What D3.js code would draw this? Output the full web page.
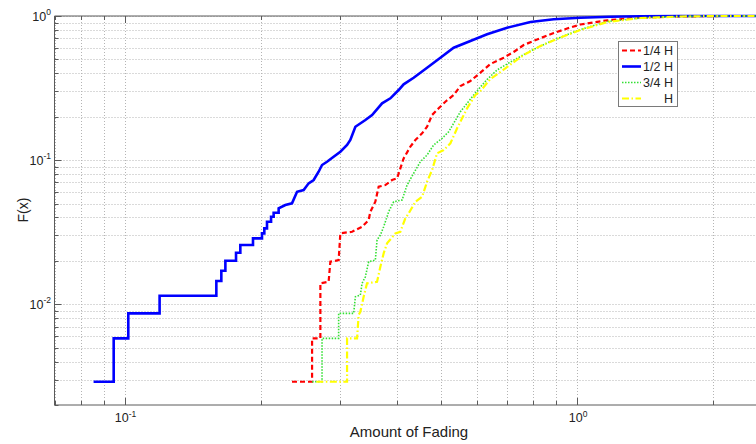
<!DOCTYPE html>
<html>
<head>
<meta charset="utf-8">
<script src="https://cdn.jsdelivr.net/npm/d3@7"></script>
<style>
  body { margin: 0; background: #fff; }
  svg { display: block; font-family: "Liberation Sans", Arial, sans-serif; }
</style>
</head>
<body>
<svg id="chart" width="756" height="444"></svg>
<script>
// Empirical CDFs of the amount of fading, one polyline per antenna height.
// Each entry is [amount of fading, F(x)].
const seriesNames = ["1/4 H", "1/2 H", "3/4 H", "H"];

const quarterH = [
  [0.2344,0.00290],[0.2596,0.00290],[0.2596,0.00580],[0.2708,0.00580],[0.2708,0.01397],
  [0.2824,0.01432],[0.2849,0.01972],[0.2972,0.02026],[0.2998,0.03105],[0.3182,0.03185],
  [0.3348,0.03450],[0.3462,0.03840],[0.3492,0.04384],[0.3582,0.05144],[0.3643,0.06538],
  [0.3769,0.06718],[0.3900,0.07277],[0.4001,0.07477],[0.4068,0.08772],[0.4137,0.1029],
  [0.4281,0.1239],[0.4391,0.1379],[0.4544,0.1535],[0.4661,0.1705],[0.4781,0.2056],
  [0.4944,0.2288],[0.5116,0.2543],[0.5336,0.2830],[0.5522,0.3267],[0.5810,0.3540],
  [0.6113,0.4042],[0.6432,0.4644],[0.6883,0.5136],[0.7242,0.5626],[0.7620,0.6292],
  [0.8158,0.6870],[0.8878,0.7621],[0.9504,0.8188],[1.0169,0.8731],[1.1668,0.9336],
  [1.380,0.9763],[1.692,0.9920],[2.074,1.0],[3.0,1.0]
];

const halfH = [
  [0.0854,0.00290],[0.0946,0.00290],[0.0946,0.00580],[0.1019,0.00580],[0.1019,0.00865],
  [0.1195,0.00865],[0.1195,0.01146],[0.1595,0.01146],[0.1595,0.01449],[0.1636,0.01449],
  [0.1636,0.01708],[0.1670,0.01708],[0.1670,0.02004],[0.1763,0.02004],[0.1763,0.02278],
  [0.1802,0.02278],[0.1802,0.02575],[0.1922,0.02575],[0.1922,0.02866],[0.2012,0.02866],
  [0.2012,0.03105],[0.2036,0.03105],[0.2036,0.03363],[0.2064,0.03363],[0.2064,0.03737],
  [0.2107,0.03737],[0.2107,0.04048],[0.2135,0.04048],[0.2135,0.04315],[0.2190,0.04315],
  [0.2190,0.04629],[0.2266,0.04880],[0.2344,0.05014],[0.2405,0.06036],[0.2487,0.06202],
  [0.2551,0.06902],[0.2617,0.07277],[0.2684,0.08308],[0.2731,0.09247],[0.2801,0.09747],
  [0.2897,0.1056],[0.2998,0.1144],[0.3102,0.1273],[0.3154,0.1379],[0.3236,0.1705],
  [0.3405,0.1898],[0.3523,0.2056],[0.3707,0.2478],[0.3867,0.2685],[0.4033,0.3065],
  [0.4137,0.3357],[0.4353,0.3731],[0.4661,0.4377],[0.4987,0.5136],[0.5336,0.6026],
  [0.5810,0.6707],[0.6325,0.7464],[0.7003,0.8294],[0.7885,0.9085],[0.8878,0.9487],
  [1.0169,0.9732],[1.1847,0.9872],[1.380,0.9968],[1.692,1.0],[3.0,1.0]
];

const threeQuarterH = [
  [0.2596,0.00290],[0.2731,0.00290],[0.2731,0.00580],[0.2972,0.00580],[0.2972,0.00865],
  [0.3208,0.00865],[0.3236,0.01127],[0.3319,0.01158],[0.3348,0.01397],[0.3405,0.01552],
  [0.3462,0.01972],[0.3582,0.02026],[0.3613,0.02789],[0.3675,0.03021],[0.3737,0.03450],
  [0.3802,0.04048],[0.3833,0.04384],[0.3932,0.05144],[0.4104,0.05286],[0.4210,0.06718],
  [0.4353,0.08098],[0.4504,0.09747],[0.4661,0.1085],[0.4820,0.1273],[0.5031,0.1417],
  [0.5202,0.1574],[0.5336,0.1801],[0.5522,0.2167],[0.5713,0.2478],[0.5908,0.2830],
  [0.6113,0.3216],[0.6325,0.3626],[0.6655,0.4221],[0.7122,0.4795],[0.7885,0.5716],
  [0.8584,0.6496],[0.9341,0.7264],[1.0169,0.8058],[1.1668,0.9158],[1.380,0.9685],
  [1.692,0.9920],[2.074,1.0],[3.0,1.0]
];

const fullH = [
  [0.2653,0.00290],[0.3102,0.00290],[0.3102,0.00580],[0.3264,0.00580],[0.3290,0.00841],
  [0.3319,0.00887],[0.3375,0.01127],[0.3434,0.01397],[0.3613,0.01432],[0.3675,0.01821],
  [0.3737,0.02256],[0.3802,0.02646],[0.3966,0.03105],[0.4068,0.03185],[0.4173,0.03946],
  [0.4244,0.04274],[0.4391,0.05144],[0.4544,0.05572],[0.4661,0.07081],[0.4781,0.08537],
  [0.4904,0.1115],[0.5072,0.1175],[0.5248,0.1308],[0.5430,0.1662],[0.5570,0.1950],
  [0.5713,0.2288],[0.5960,0.2830],[0.6113,0.3016],[0.6432,0.3655],[0.6768,0.4088],
  [0.7122,0.4607],[0.7620,0.5363],[0.8296,0.6192],[0.9185,0.7093],[1.0169,0.7994],
  [1.1668,0.9085],[1.380,0.9685],[1.692,0.9920],[2.074,1.0],[3.0,1.0]
];

const xMajorTicks = [0.1, 1];
const xTickLabels = [["10", "-1"], ["10", "0"]];
const yMajorTicks = [0.01, 0.1, 1];
const yTickLabels = [["10", "-2"], ["10", "-1"], ["10", "0"]];

// ---- layout -------------------------------------------------------------
const svg = d3.select("#chart");
const W = 756, H = 444;
const plot = { left: 54.5, top: 16, right: 793, bottom: 405 };

const x = d3.scaleLog().domain([0.07, 3]).range([plot.left, plot.right]);
const y = d3.scaleLog().domain([0.002, 1]).range([plot.bottom, plot.top]);

svg.append("rect").attr("width", W).attr("height", H).attr("fill", "#fff");

svg.append("defs").append("clipPath").attr("id", "plotClip")
  .append("rect")
  .attr("x", plot.left).attr("y", plot.top)
  .attr("width", plot.right - plot.left).attr("height", plot.bottom - plot.top);

// ---- dotted grid on every decade subdivision ------------------------------
const grid = svg.append("g").attr("clip-path", "url(#plotClip)")
  .attr("stroke", "#b4b4b4").attr("stroke-width", 1).attr("stroke-dasharray", "1,2");

grid.selectAll("line.gx").data(x.ticks()).join("line")
  .attr("class", "gx")
  .attr("x1", d => Math.round(x(d)) + 0.5).attr("x2", d => Math.round(x(d)) + 0.5)
  .attr("y1", plot.top).attr("y2", plot.bottom);

grid.selectAll("line.gy").data(y.ticks()).join("line")
  .attr("class", "gy")
  .attr("y1", d => Math.round(y(d)) + 0.5).attr("y2", d => Math.round(y(d)) + 0.5)
  .attr("x1", plot.left).attr("x2", plot.right);

// ---- axes box with inward ticks ------------------------------------------
const axisColor = "#5a5a5a";
const axes = svg.append("g").attr("stroke", axisColor).attr("stroke-width", 1).attr("fill", "none");
axes.append("path")
  .attr("d", `M${plot.left},${plot.top}H${plot.right}M${plot.left},${plot.top}V${plot.bottom}H${plot.right}`);

const isMajor = v => Math.abs(Math.log10(v) - Math.round(Math.log10(v))) < 1e-9;

x.ticks().forEach(v => {
  const px = Math.round(x(v)) + 0.5;
  const len = isMajor(v) ? 7 : 4;
  axes.append("line").attr("x1", px).attr("x2", px).attr("y1", plot.bottom).attr("y2", plot.bottom - len);
  axes.append("line").attr("x1", px).attr("x2", px).attr("y1", plot.top).attr("y2", plot.top + len);
});
y.ticks().forEach(v => {
  const py = Math.round(y(v)) + 0.5;
  const len = isMajor(v) ? 7 : 4;
  axes.append("line").attr("y1", py).attr("y2", py).attr("x1", plot.left).attr("x2", plot.left + len);
});

// ---- tick labels (power-of-ten notation) -----------------------------------
function powerLabel(g, parts, px, py, anchor) {
  const t = g.append("text")
    .attr("x", px).attr("y", py)
    .attr("text-anchor", anchor)
    .attr("font-size", 12.5).attr("fill", "#222");
  t.append("tspan").text(parts[0]);
  t.append("tspan").attr("dy", -5.5).attr("font-size", 8.5).text(parts[1]);
}

const labels = svg.append("g");
xMajorTicks.forEach((v, i) => powerLabel(labels, xTickLabels[i], x(v) + 1, 422, "middle"));
yMajorTicks.forEach((v, i) => powerLabel(labels, yTickLabels[i], 51, y(v) + 4.5, "end"));

svg.append("text")
  .attr("x", 409).attr("y", 437)
  .attr("text-anchor", "middle").attr("font-size", 15).attr("fill", "#222")
  .text("Amount of Fading");

svg.append("text")
  .attr("transform", "translate(28,210) rotate(-90)")
  .attr("text-anchor", "middle").attr("font-size", 14).attr("fill", "#222")
  .text("F(x)");

// ---- CDF curves -------------------------------------------------------------
const styles = [
  { data: quarterH,      color: "#ff0000", width: 2.2, dash: "5,3" },
  { data: halfH,         color: "#0000ff", width: 2.6, dash: null },
  { data: threeQuarterH, color: "#33e033", width: 1.6, dash: "1.5,1.5" },
  { data: fullH,         color: "#ffff00", width: 2.2, dash: "7,2.5,1.5,2.5" }
];

const line = d3.line().x(d => x(d[0])).y(d => y(d[1]));

svg.append("g").selectAll("path").data(styles).join("path")
  .attr("d", s => line(s.data))
  .attr("fill", "none")
  .attr("stroke", s => s.color)
  .attr("stroke-width", s => s.width)
  .attr("stroke-dasharray", s => s.dash)
  .attr("stroke-linejoin", "miter");

// ---- legend -------------------------------------------------------------------
const lg = svg.append("g");
lg.append("rect")
  .attr("x", 618.5).attr("y", 41.5).attr("width", 59).attr("height", 65)
  .attr("fill", "#fff").attr("stroke", "#7a7a7a").attr("stroke-width", 1);

styles.forEach((s, i) => {
  const cy = 50.5 + i * 16;
  lg.append("line")
    .attr("x1", 622).attr("x2", 641).attr("y1", cy).attr("y2", cy)
    .attr("stroke", s.color).attr("stroke-width", s.width)
    .attr("stroke-dasharray", s.dash);
  lg.append("text")
    .attr("x", 673).attr("y", cy + 4.5)
    .attr("text-anchor", "end").attr("font-size", 12.5).attr("fill", "#222")
    .text(seriesNames[i]);
});
</script>
</body>
</html>
